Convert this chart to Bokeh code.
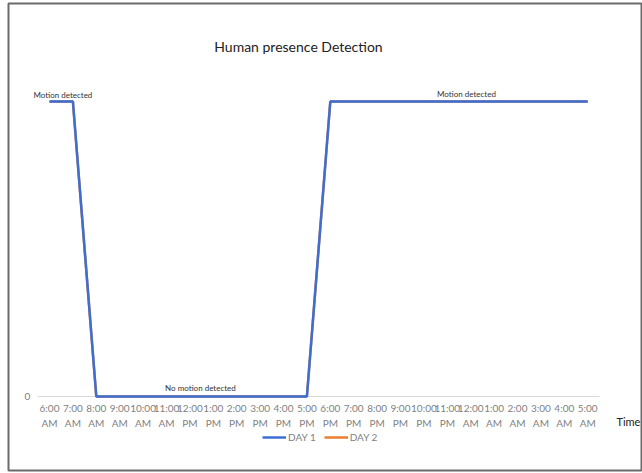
from bokeh.plotting import figure
from bokeh.models import Range1d, Label, Legend, LegendItem
from bokeh.core.properties import value
from bokeh.embed import file_html
from bokeh.resources import INLINE

# ---- data ----
hours = ["6:00", "7:00", "8:00", "9:00", "10:00", "11:00", "12:00", "1:00", "2:00", "3:00", "4:00", "5:00",
         "6:00", "7:00", "8:00", "9:00", "10:00", "11:00", "12:00", "1:00", "2:00", "3:00", "4:00", "5:00"]
ampm = ["AM", "AM", "AM", "AM", "AM", "AM", "PM", "PM", "PM", "PM", "PM", "PM",
        "PM", "PM", "PM", "PM", "PM", "PM", "AM", "AM", "AM", "AM", "AM", "AM"]
day1 = [1, 1, 0, 0, 0, 0, 0, 0, 0, 0, 0, 0, 1, 1, 1, 1, 1, 1, 1, 1, 1, 1, 1, 1]
day2 = [1, 1, 0, 0, 0, 0, 0, 0, 0, 0, 0, 0, 1, 1, 1, 1, 1, 1, 1, 1, 1, 1, 1, 1]
y_ticks = [0]
x = list(range(len(hours)))

FONT = "Lato"
GRAY = "#7f7f7f"

p = figure(width=642, height=473, output_backend="svg", toolbar_location=None,
           x_axis_type=None, y_axis_type=None,
           x_range=Range1d(-1.752, 25.342), y_range=Range1d(-0.2508, 1.3322),
           min_border_left=8, min_border_top=3, min_border_right=0, min_border_bottom=3)
p.outline_line_color = "#6b6b6b"
p.outline_line_width = 2
p.xgrid.grid_line_color = None
p.ygrid.grid_line_color = None
p.background_fill_color = "white"
p.border_fill_color = "white"

# zero gridline across the category band, then the series
for yt in y_ticks:
    p.line([x[0] - 0.5, x[-1] + 0.5], [yt, yt], line_color="#d9d9d9", line_width=1)
r2 = p.line(x, day2, line_color="#ED7D31", line_width=2.5)
r1 = p.line(x, day1, line_color="#3b6fd6", line_width=2.5)

# category (x) tick labels, two lines each, and y tick label
p.text(x=x, y=[-0.0373] * len(x), text=hours, text_align="center", text_baseline="middle",
       text_font=value(FONT), text_font_size="10px", text_color=GRAY)
p.text(x=x, y=[-0.0881] * len(x), text=ampm, text_align="center", text_baseline="middle",
       text_font=value(FONT), text_font_size="10px", text_color=GRAY)
p.text(x=[-0.94] * len(y_ticks), y=y_ticks, text=[str(v) for v in y_ticks], text_align="center",
       text_baseline="middle", text_font=value(FONT), text_font_size="10px", text_color=GRAY)

# axis title
p.add_layout(Label(x=24.74, y=-0.0847, text="Time", text_align="center", text_baseline="middle",
                   text_font=FONT, text_font_size="11px", text_color="#222222"))

# chart title & annotations
p.add_layout(Label(x=10.64, y=1.1864, text="Human presence Detection", text_align="center",
                   text_baseline="middle", text_font=FONT, text_font_size="14px", text_color="#222222"))
p.add_layout(Label(x=-0.684, y=1.0237, text="Motion detected", text_align="left", text_baseline="middle",
                   text_font=FONT, text_font_size="8px", text_color="#333333"))
p.add_layout(Label(x=17.82, y=1.027, text="Motion detected", text_align="center", text_baseline="middle",
                   text_font=FONT, text_font_size="8px", text_color="#333333"))
p.add_layout(Label(x=6.45, y=0.0305, text="No motion detected", text_align="center", text_baseline="middle",
                   text_font=FONT, text_font_size="8px", text_color="#333333"))

legend = Legend(items=[LegendItem(label="DAY 1", renderers=[r1]), LegendItem(label="DAY 2", renderers=[r2])],
                orientation="horizontal", location=(254, 27), background_fill_alpha=0,
                border_line_color=None, label_text_font=FONT, label_text_font_size="10px",
                label_text_color=GRAY, glyph_width=24, glyph_height=10, label_standoff=2,
                spacing=8, padding=0, margin=0, label_height=10)
p.add_layout(legend, "center")

open("out.html", "w").write(file_html(p, INLINE))
